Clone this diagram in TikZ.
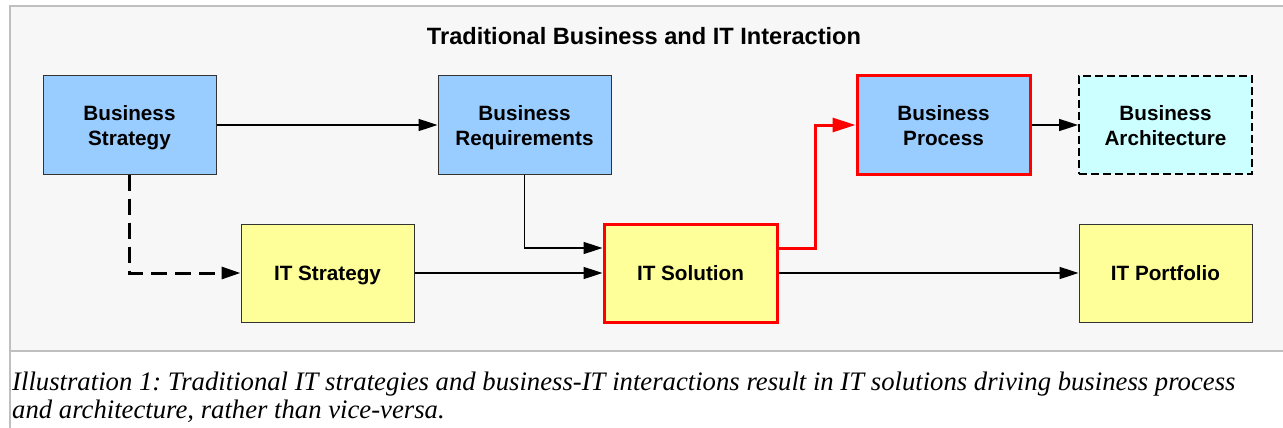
\documentclass[tikz,border=0pt]{standalone}
\usepackage{fontspec}
\setmainfont{Liberation Serif}
\newfontfamily\arial{Liberation Sans}
\usetikzlibrary{arrows.meta}
\frenchspacing

\definecolor{panelbg}{HTML}{F7F7F7}
\definecolor{panelrule}{HTML}{BFBFBF}
\definecolor{bizblue}{HTML}{99CCFF}
\definecolor{ityellow}{HTML}{FFFF99}
\definecolor{archcyan}{HTML}{CCFFFF}
\definecolor{boxline}{HTML}{333333}

\tikzset{
  box/.style={draw=boxline, line width=1pt, minimum width=173pt, minimum height=98pt,
    inner sep=0pt, align=center, text depth=0pt,
    font=\arial\bfseries\fontsize{20.7}{25}\selectfont},
  bizbox/.style={box, fill=bizblue},
  itbox/.style={box, fill=ityellow},
  hotbox/.style={draw=red, line width=3pt},
  archbox/.style={box, fill=archcyan, line width=2pt, draw=black, dash pattern=on 8pt off 4pt},
  arr/.style={draw=black, line width=1.6pt, -{Triangle[length=19pt,width=12pt]}},
  dasharr/.style={arr, line width=3pt, dash pattern=on 16pt off 8pt},
  redarr/.style={draw=red, line width=3pt, -{Triangle[length=23pt,width=14pt]}},
  captext/.style={anchor=base west, inner sep=0pt, font=\itshape\fontsize{26.7}{29}\selectfont},
}

\begin{document}
\begin{tikzpicture}[x=1pt, y=-1pt]
  \useasboundingbox (0,0) rectangle (1283,428);
  % page and framed panel
  \fill[white] (0,0) rectangle (1283,428);
  \fill[panelbg] (10,6) rectangle (1283,351);
  \draw[panelrule, line width=2pt] (10,428) -- (10,6) -- (1283,6);
  \draw[panelrule, line width=2pt] (10,351) -- (1283,351);

  % title
  \node[anchor=base, font=\arial\bfseries\fontsize{23.6}{28}\selectfont] (title) at (644,45)
    {Traditional Business and IT Interaction};

  % business row
  \node[bizbox] (bs) at (129.5,125) {Business\\Strategy};
  \node[bizbox] (br) at (524.5,125) {Business\\Requirements};
  \node[bizbox, hotbox] (bp) at (943.5,125) {Business\\Process};
  \node[archbox] (ba) at (1165.5,125) {Business\\Architecture};

  % IT row
  \node[itbox] (its) at (327.5,273) {IT Strategy};
  \node[itbox, hotbox] (sol) at (690.5,273) {IT Solution};
  \node[itbox] (itp) at (1165.5,273) {IT Portfolio};

  % connectors
  \draw[arr] (bs.east) -- (br.west);
  \draw[arr] (br.south) |- ([yshift=25pt]sol.west);
  \draw[arr] (its.east) -- (sol.west);
  \draw[dasharr] (bs.south) |- (its.west);
  \draw[redarr] ([yshift=25pt]sol.east) -- ++(37,0) |- (bp.west);
  \draw[arr] (bp.east) -- (ba.west);
  \draw[arr] (sol.east) -- (itp.west);

  % caption
  \node[captext] (cap1) at (12,390)
    {Illustration 1: Traditional IT strategies and business-IT interactions result in IT solutions driving business process};
  \node[captext] (cap2) at (12,418)
    {and architecture, rather than vice-versa.};
\end{tikzpicture}
\end{document}
